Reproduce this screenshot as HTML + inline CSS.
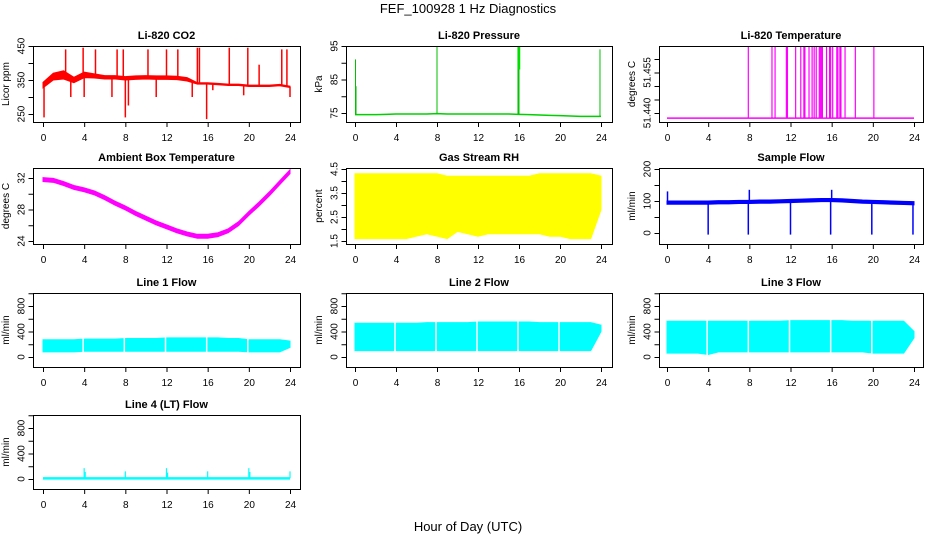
<!DOCTYPE html>
<html><head><meta charset="utf-8"><style>
body{margin:0;background:#fff}
svg{display:block;font-family:"Liberation Sans",sans-serif}
</style></head><body>
<svg id="c" width="936" height="540" xmlns="http://www.w3.org/2000/svg">
<text x="468" y="13" text-anchor="middle" font-size="13">FEF_100928  1 Hz Diagnostics</text>
<text x="468" y="531" text-anchor="middle" font-size="13">Hour of Day (UTC)</text>
</svg>
<script>
const hours=[0,1,2,3,4,5,6,7,8,9,10,11,12,13,14,15,16,17,18,19,20,21,22,23,24];
const xTicks=[0,4,8,12,16,20,24];
// CO2
const co2Level=[335,360,365,350,365,362,358,358,355,357,358,357,357,356,352,340,340,338,336,336,333,333,333,335,330];
const co2Band=[8,10,12,8,8,6,5,5,5,5,5,5,5,5,5,2,2,2,2,2,2,2,2,2,2];
const co2SpikeT=[0.1,2.2,3.9,5.1,7.2,7.8,8.0,10.2,12.0,13.1,15.0,15.2,15.9,18.1,19.9,21.0,23.2,23.7,2.7,4.0,6.7,8.3,11.0,14.5,16.5,19.5,24.0];
const co2SpikeV=[240,440,445,440,440,440,240,440,440,440,445,445,235,445,445,395,440,440,300,300,300,275,300,300,320,305,300];
// Pressure
const presLevel=[74.5,74.5,74.5,74.6,74.7,74.7,74.7,74.7,74.8,74.7,74.7,74.7,74.7,74.7,74.7,74.7,74.6,74.5,74.4,74.3,74.2,74.1,74.0,74.0,74.0];
const presSpikeT=[0.05,0.1,8.0,15.9,16.0,23.9];
const presSpikeV=[91,83,95,95,95,94];
// Temperature
const tempBase=51.4381;
const tempSpikeT=[7.9,10.2,10.5,11.6,11.7,12.5,13.0,13.3,13.4,13.8,14.1,14.3,14.5,14.8,14.9,15.0,15.1,15.5,15.8,15.9,16.1,16.5,16.6,16.8,16.9,17.3,18.3,20.1];
// Ambient box temperature
const ambLevel=[31.8,31.7,31.3,30.8,30.5,30.1,29.5,28.8,28.2,27.5,26.9,26.3,25.8,25.3,24.9,24.6,24.6,24.8,25.3,26.2,27.5,28.7,30.0,31.4,32.8];
// Gas stream RH
const rhHi=[4.3,4.3,4.3,4.3,4.3,4.3,4.3,4.3,4.3,4.2,4.2,4.2,4.2,4.2,4.2,4.2,4.2,4.2,4.3,4.3,4.3,4.3,4.3,4.3,4.2];
const rhLo=[1.6,1.6,1.6,1.6,1.6,1.6,1.7,1.8,1.7,1.6,1.9,1.8,1.7,1.8,1.8,1.8,1.8,1.8,1.8,1.7,1.7,1.6,1.6,1.6,2.8];
// Sample flow
const sfLevel=[95,95,95,95,95,96,96,97,97,98,98,99,100,101,102,103,103,102,100,98,97,96,95,94,93];
const sfSpikeT=[0.05,4.0,7.9,8.0,12.0,15.9,16.0,19.9,23.9];
const sfSpikeV=[130,-5,-5,135,-5,-5,135,-5,-5];
// Line flows: band low/high per hour
const l1Lo=[80,80,80,80,90,90,90,90,90,90,90,90,90,90,90,90,90,90,90,90,80,80,80,80,150];
const l1Hi=[270,270,270,270,280,280,280,280,290,290,290,290,300,300,300,300,300,300,290,290,270,270,270,270,250];
const l2Lo=[100,100,100,100,100,100,100,100,100,100,100,100,100,100,100,100,100,100,100,100,100,100,100,100,400];
const l2Hi=[530,530,530,530,530,530,530,540,540,540,540,540,550,550,550,550,550,550,540,540,540,540,540,540,500];
const l3Lo=[60,60,60,60,40,80,80,80,80,80,80,80,80,80,80,80,80,80,80,80,60,60,60,60,300];
const l3Hi=[560,560,560,560,560,560,560,560,560,560,560,560,570,570,570,570,570,570,560,560,560,560,560,560,400];
const flowGaps=[4,8,12,16,20];
const l4Level=10;
const l4SpikeT=[4.0,4.1,8.0,12.0,12.1,16.0,20.0,20.1,24.0];
const l4SpikeV=[170,110,120,170,100,120,170,110,120];

const svg=document.getElementById('c');
const NS='http://www.w3.org/2000/svg';
function el(tag,attrs,parent){const e=document.createElementNS(NS,tag);for(const k in attrs)e.setAttribute(k,attrs[k]);(parent||svg).appendChild(e);return e;}
function lin(v1,p1,v2,p2){return v=>p1+(v-v1)*(p2-p1)/(v2-v1);}

const cols=[{bx0:33,bx1:300,x0:43,x1:290},{bx0:346,bx1:612,x0:355,x1:601},{bx0:659,bx1:923,x0:667,x1:914}];
const rows=[{by0:46,by1:122},{by0:168,by1:244},{by0:293,by1:367},{by0:415,by1:489}];

function panel(ci,ri,title,ylab,yMap,yTicks,yLabels,name){
  const c=cols[ci],r=rows[ri];
  const g=el('g',{});
  
  
  const X=lin(0,c.x0,24,c.x1);
  const id='clip'+ci+ri;
  const cp=el('clipPath',{id:id},g);
  el('rect',{x:c.bx0,y:r.by0,width:c.bx1-c.bx0,height:r.by1-r.by0},cp);
  const plot=el('g',{'clip-path':'url(#'+id+')'},g);
  
  
  const box=el('rect',{x:c.bx0+.5,y:r.by0+.5,width:c.bx1-c.bx0,height:r.by1-r.by0,fill:'none',stroke:'#000'},g);
  
  
  const t=el('text',{x:(c.bx0+c.bx1)/2,y:r.by0-7,'text-anchor':'middle','font-size':11,'font-weight':'bold'},g);
  t.textContent=title;
  
  
  // x axis ticks
  xTicks.forEach(v=>{
    el('line',{x1:X(v)+.5,x2:X(v)+.5,y1:r.by1,y2:r.by1+5,stroke:'#000'},g);
    const tl=el('text',{x:X(v)+.5,y:r.by1+19,'text-anchor':'middle','font-size':10},g);
    tl.textContent=v;
    
    
  });
  // y axis ticks
  const ax=c.bx0+.5;
  yTicks.forEach(v=>{el('line',{x1:ax-5,x2:ax,y1:yMap(v)+.5,y2:yMap(v)+.5,stroke:'#000'},g);});
  yLabels.forEach(v=>{
    const y=yMap(v);
    const lx=ax-9;
    const tl=el('text',{x:lx,y:y,'text-anchor':'middle','font-size':10,transform:'rotate(-90 '+lx+' '+y+')'},g);
    tl.textContent=String(v);
    
    
  });
  const yx=c.bx0-24;
  const yl=el('text',{x:yx,y:(r.by0+r.by1)/2,'text-anchor':'middle','font-size':10,transform:'rotate(-90 '+yx+' '+((r.by0+r.by1)/2)+')'},g);
  yl.textContent=ylab;
  
  
  return {X,plot};
}
function bandPoly(plot,X,Y,lo,hi,color){
  let pts=hours.map((h,i)=>X(h)+','+Y(hi[i]));
  pts=pts.concat(hours.slice().reverse().map((h,j)=>{const i=hours.length-1-j;return X(h)+','+Y(lo[i]);}));
  const p=el('polygon',{points:pts.join(' '),fill:color,stroke:color},plot);
  
  
}
function spikes(plot,X,Y,ts,vs,base,color,w){
  ts.forEach((t,i)=>{
    const l=el('line',{x1:X(t),x2:X(t),y1:Y(typeof base==='function'?base(t):base),y2:Y(vs[i]),stroke:color,'stroke-width':w||1.2},plot);
    
    
  });
}
function interp(arr){return t=>{const i=Math.min(23,Math.floor(t));const f=t-i;return arr[i]*(1-f)+arr[i+1]*f;};}

// CO2
(function(){
  const Y=lin(250,114,450,46);
  const {X,plot}=panel(0,0,'Li-820 CO2','Licor ppm',Y,[250,300,350,400,450],[250,350,450],'co2-panel');
  bandPoly(plot,X,Y,co2Level.map((v,i)=>v-co2Band[i]),co2Level.map((v,i)=>v+co2Band[i]),'#f00');
  spikes(plot,X,Y,co2SpikeT,co2SpikeV,interp(co2Level),'#f00',1.5);
})();
// Pressure
(function(){
  const Y=lin(75,113,95,46);
  const {X,plot}=panel(1,0,'Li-820 Pressure','kPa',Y,[75,80,85,90,95],[75,85,95],'pressure-panel');
  const p=el('polyline',{points:hours.map((h,i)=>X(h)+','+Y(presLevel[i])).join(' '),fill:'none',stroke:'#00d000','stroke-width':1.5},plot);
  
  
  spikes(plot,X,Y,presSpikeT,presSpikeV,interp(presLevel),'#00c000',1);
  el('line',{x1:X(16),x2:X(16),y1:Y(88),y2:Y(95),stroke:'#00e000','stroke-width':2.5},plot);
})();
// Temperature
(function(){
  const Y=lin(51.440,113,51.460,59);
  const {X,plot}=panel(2,0,'Li-820 Temperature','degrees C',Y,[51.440,51.445,51.450,51.455,51.460],['51.440','51.455'],'temperature-panel');
  const b=el('line',{x1:X(0),x2:X(24),y1:Y(tempBase),y2:Y(tempBase),stroke:'#f0f','stroke-width':1.5},plot);
  
  
  spikes(plot,X,Y,tempSpikeT,tempSpikeT.map(()=>51.47),tempBase,'#f0f',1.2);
})();
// Ambient
(function(){
  const Y=lin(24,241,32,178);
  const {X,plot}=panel(0,1,'Ambient Box Temperature','degrees C',Y,[24,26,28,30,32],[24,28,32],'ambient-temperature-panel');
  bandPoly(plot,X,Y,ambLevel.map(v=>v-0.25),ambLevel.map(v=>v+0.25),'#f0f');
})();
// RH
(function(){
  const Y=lin(1.5,241,4.5,169);
  const {X,plot}=panel(1,1,'Gas Stream RH','percent',Y,[1.5,2,2.5,3,3.5,4,4.5],['1.5','2.5','3.5','4.5'],'rh-panel');
  bandPoly(plot,X,Y,rhLo,rhHi,'#ff0');
})();
// Sample flow
(function(){
  const Y=lin(0,233,200,169);
  const {X,plot}=panel(2,1,'Sample Flow','ml/min',Y,[0,50,100,150,200],[0,100,200],'sample-flow-panel');
  bandPoly(plot,X,Y,sfLevel.map(v=>v-5),sfLevel.map(v=>v+5),'#00f');
  spikes(plot,X,Y,sfSpikeT,sfSpikeV,interp(sfLevel),'#00f',1.5);
})();
// Line flows
function flowPanel(ci,ri,title,name,lo,hi){
  const r=rows[ri];
  const Y=lin(0,r.by1-10,800,r.by1-61);
  const {X,plot}=panel(ci,ri,title,'ml/min',Y,[0,200,400,600,800,1000],[0,400,800],name);
  if(lo){
    bandPoly(plot,X,Y,lo,hi,'#0ff');
    flowGaps.forEach(t=>{el('line',{x1:X(t)-1,x2:X(t)-1,y1:Y(hi[t]+20),y2:Y(lo[t]-20),stroke:'#fff','stroke-width':1.5},plot);});
  }
  return {X,Y,plot};
}
flowPanel(0,2,'Line 1 Flow','line1-flow-panel',l1Lo,l1Hi);
flowPanel(1,2,'Line 2 Flow','line2-flow-panel',l2Lo,l2Hi);
flowPanel(2,2,'Line 3 Flow','line3-flow-panel',l3Lo,l3Hi);
(function(){
  const {X,Y,plot}=flowPanel(0,3,'Line 4 (LT) Flow','line4-flow-panel',null,null);
  const b=el('line',{x1:X(0),x2:X(24),y1:Y(l4Level),y2:Y(l4Level),stroke:'#0ff','stroke-width':2.5},plot);
  
  
  spikes(plot,X,Y,l4SpikeT,l4SpikeV,l4Level,'#0ff',1.2);
})();
</script>
</body></html>
